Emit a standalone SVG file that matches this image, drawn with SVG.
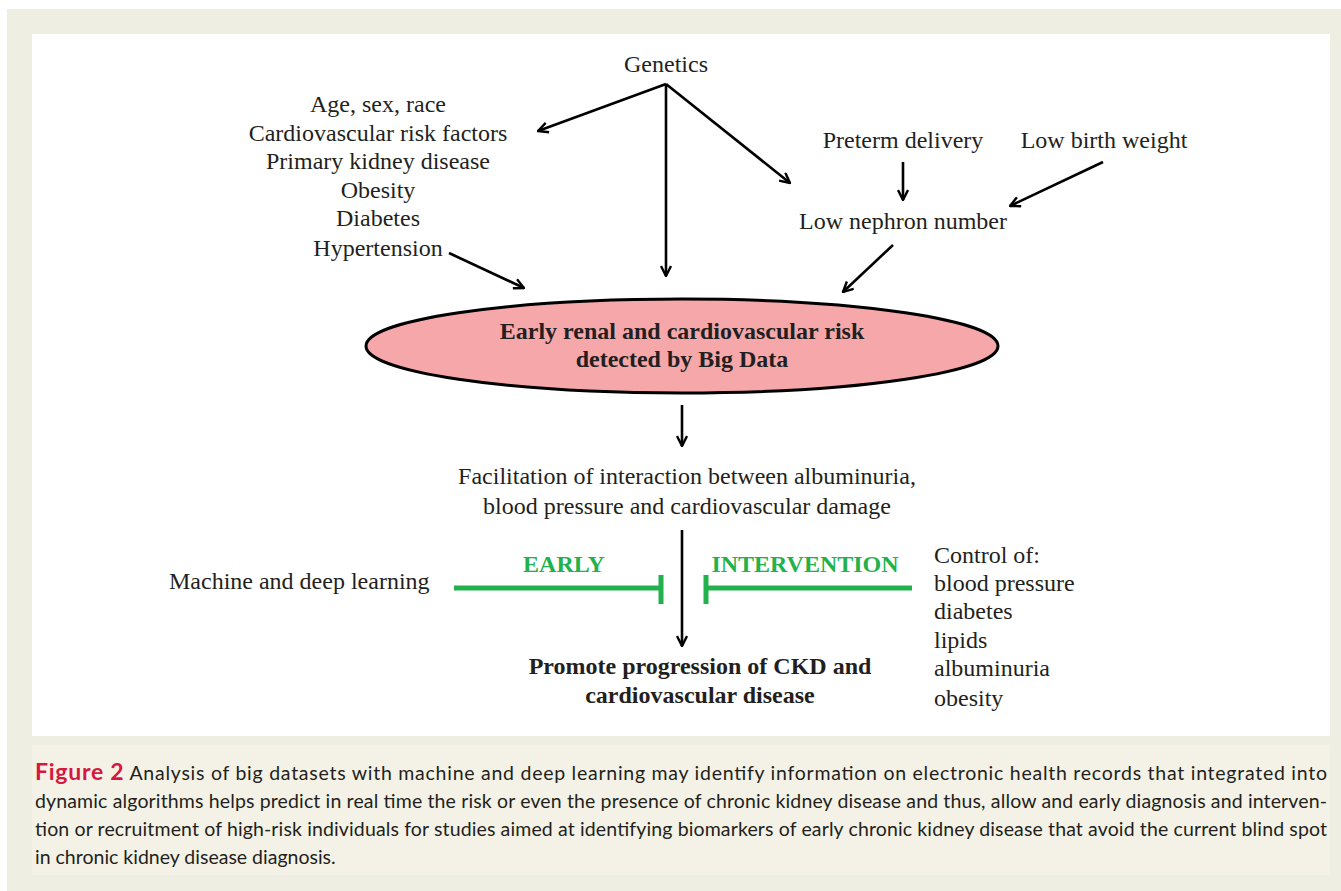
<svg xmlns="http://www.w3.org/2000/svg" width="1341" height="891" viewBox="0 0 1341 891">
<defs>
<style>
.t{font-family:"Liberation Serif","Times New Roman",serif;font-size:24px;fill:#231f20}
.c{text-anchor:middle}
.b{font-weight:bold}
.g{font-family:"Liberation Serif","Times New Roman",serif;font-size:24px;font-weight:bold;fill:#22b14c;text-anchor:middle}
.cap{font-family:Lato,"Open Sans",sans-serif;font-size:19.5px;fill:#231f20}
.ar{stroke:#000;stroke-width:2.6;fill:none;marker-end:url(#ah)}
.gl{stroke:#22b14c;stroke-width:5;fill:none}
</style>
<marker id="ah" viewBox="0 0 12 12" refX="11" refY="6" markerWidth="12" markerHeight="12" markerUnits="userSpaceOnUse" orient="auto">
<path d="M1,1 L11,6 L1,11" fill="none" stroke="#000" stroke-width="2.4"/>
</marker>
</defs>
<rect x="0" y="0" width="1341" height="891" fill="#ffffff"/>
<rect x="7" y="9" width="1334" height="882" fill="#efeee3"/>
<rect x="32" y="34" width="1298" height="702" fill="#ffffff"/>
<rect x="32" y="745" width="1298" height="130" fill="#f4f2e6"/>

<g id="connectors">
<line class="ar" x1="666" y1="84" x2="538" y2="131"/>
<line class="ar" x1="666" y1="84" x2="790" y2="183"/>
<line class="ar" x1="666" y1="84" x2="666" y2="276"/>
<line class="ar" x1="449" y1="253" x2="524" y2="288"/>
<line class="ar" x1="903" y1="162" x2="903" y2="200"/>
<line class="ar" x1="1103" y1="162" x2="1010" y2="206"/>
<line class="ar" x1="893" y1="245" x2="843" y2="292"/>
<line class="ar" x1="682" y1="405" x2="682" y2="446"/>
<line class="ar" x1="682" y1="530" x2="682" y2="646"/>
<line class="gl" x1="454" y1="588" x2="661" y2="588"/>
<line class="gl" x1="661" y1="575" x2="661" y2="604"/>
<line class="gl" x1="706" y1="588" x2="912" y2="588"/>
<line class="gl" x1="706" y1="575" x2="706" y2="604"/>
</g>

<g id="genetics"><text class="t c" x="666" y="72">Genetics</text></g>
<g id="risk-list">
<text class="t c" x="378" y="112">Age, sex, race</text>
<text class="t c" x="378" y="141">Cardiovascular risk factors</text>
<text class="t c" x="378" y="169">Primary kidney disease</text>
<text class="t c" x="378" y="198">Obesity</text>
<text class="t c" x="378" y="226">Diabetes</text>
<text class="t c" x="378" y="256">Hypertension</text>
</g>
<g id="preterm"><text class="t c" x="903" y="148">Preterm delivery</text></g>
<g id="lbw"><text class="t c" x="1104" y="148">Low birth weight</text></g>
<g id="nephron"><text class="t c" x="903" y="229">Low nephron number</text></g>
<g id="bigdata">
<ellipse cx="682" cy="346" rx="316" ry="47" fill="#f5a7aa" stroke="#000" stroke-width="3"/>
<text class="t c b" x="682" y="339">Early renal and cardiovascular risk</text>
<text class="t c b" x="682" y="367">detected by Big Data</text>
</g>
<g id="facilitation">
<text class="t c" x="687" y="484">Facilitation of interaction between albuminuria,</text>
<text class="t c" x="687" y="514">blood pressure and cardiovascular damage</text>
</g>
<g id="ml"><text class="t" x="169" y="589">Machine and deep learning</text></g>
<g id="early"><text class="g" x="564" y="572">EARLY</text></g>
<g id="intervention"><text class="g" x="805" y="572">INTERVENTION</text></g>
<g id="control">
<text class="t" x="934" y="563">Control of:</text>
<text class="t" x="934" y="591">blood pressure</text>
<text class="t" x="934" y="619">diabetes</text>
<text class="t" x="934" y="648">lipids</text>
<text class="t" x="934" y="676">albuminuria</text>
<text class="t" x="934" y="706">obesity</text>
</g>
<g id="ckd">
<text class="t c b" x="700" y="674">Promote progression of CKD and</text>
<text class="t c b" x="700" y="703">cardiovascular disease</text>
</g>

<g id="caption">
<text class="cap" x="35" y="780" textLength="1292" lengthAdjust="spacing"><tspan font-weight="bold" fill="#d6173f" font-size="23px">Figure 2</tspan> Analysis of big datasets with machine and deep learning may identify information on electronic health records that integrated into</text>
<text class="cap" x="35" y="808" textLength="1292" lengthAdjust="spacing">dynamic algorithms helps predict in real time the risk or even the presence of chronic kidney disease and thus, allow and early diagnosis and interven-</text>
<text class="cap" x="35" y="836" textLength="1292" lengthAdjust="spacing">tion or recruitment of high-risk individuals for studies aimed at identifying biomarkers of early chronic kidney disease that avoid the current blind spot</text>
<text class="cap" x="35" y="864">in chronic kidney disease diagnosis.</text>
</g>
</svg>
